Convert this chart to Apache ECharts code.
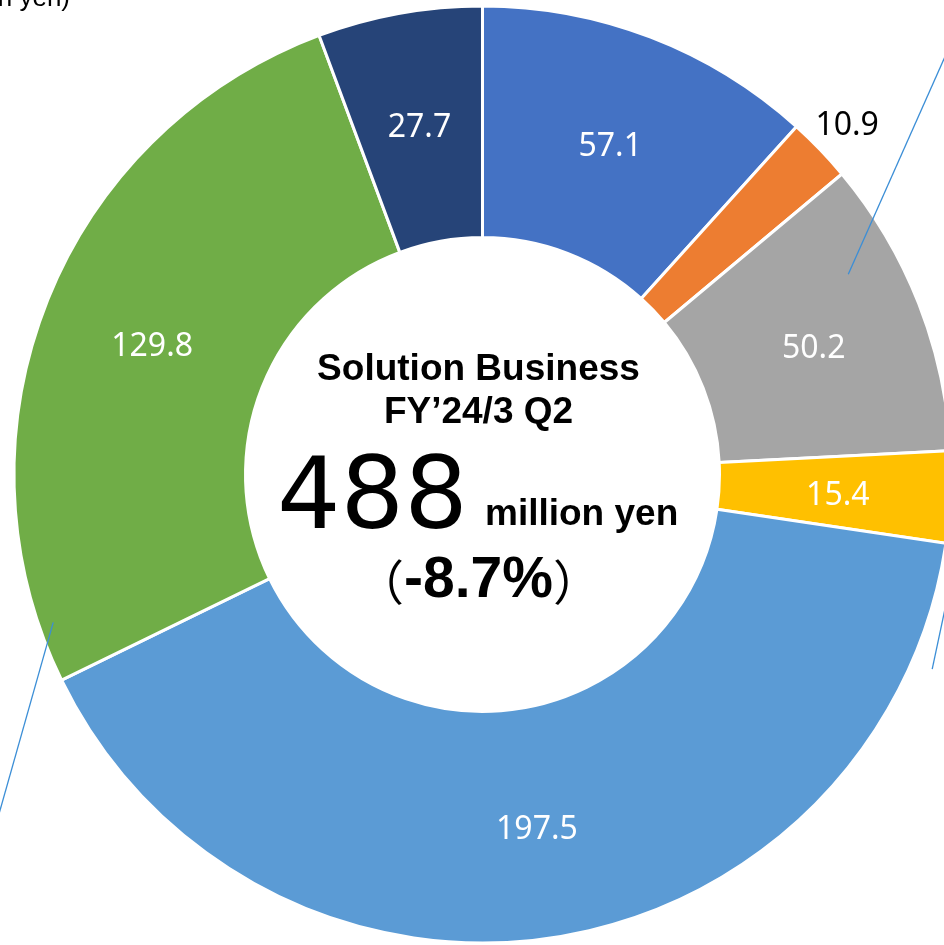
<!DOCTYPE html>
<html>
<head>
<meta charset="utf-8">
<script src="https://cdn.jsdelivr.net/npm/echarts@6/dist/echarts.min.js"></script>
<style>
  html, body { margin: 0; padding: 0; background: #fff; }
  #chart { width: 944px; height: 945px; }
</style>
</head>
<body>
<div id="chart"></div>
<script>
// Segment values of the Solution Business breakdown (million yen), clockwise from 12 o'clock
const segmentNames = ['A', 'B', 'C', 'D', 'E', 'F', 'G'];
const segmentValues = [57.1, 10.9, 50.2, 15.4, 197.5, 129.8, 27.7];
const segmentColors = ['#4472C4', '#ED7D31', '#A5A5A5', '#FFC000', '#5B9BD5', '#70AD47', '#264478'];
const outsideLabelIndex = 1;

const centerTitle = 'Solution Business';
const centerPeriod = 'FY\u201924/3 Q2';
const totalValue = '488';
const totalUnit = 'million yen';
const totalChange = '-8.7%';
const unitNote = '(million yen)';

// Donut geometry
const CX = 482.5, CY = 474.5, R_IN = 237, R_OUT = 468.5;

// Point at a clockwise angle from 12 o'clock and a radius around the donut centre
function polar(angleDeg, r) {
  const a = angleDeg * Math.PI / 180;
  return [CX + r * Math.sin(a), CY - r * Math.cos(a)];
}

// Thin leader lines running off the edges of the canvas
const leaders = [
  [[61.3, 417], [46.6, 657]],
  [[113.4, 490], [105.0, 481]],
  [[251.0, 454], [234.6, 595]]
];

const chart = echarts.init(document.getElementById('chart'));

const data = segmentValues.map((v, i) => {
  const item = { name: segmentNames[i], value: v, itemStyle: { color: segmentColors[i] } };
  if (i === outsideLabelIndex) {
    item.label = { position: 'outside', color: '#000', offset: [-37, 3] };
    item.labelLine = { show: false, length: 38, length2: 0 };
  }
  return item;
});

const graphics = leaders.map(([p, q]) => {
  const a = polar(p[0], p[1]);
  const b = polar(q[0], q[1]);
  return {
    type: 'line',
    shape: { x1: a[0], y1: a[1], x2: b[0], y2: b[1] },
    style: { stroke: '#3B8ED6', lineWidth: 1.3 },
    z: 10
  };
});

const boldFont = '"Liberation Sans", Arial, sans-serif';

graphics.push(
  {
    type: 'text', x: 70, y: 12,
    style: { text: unitNote, font: '26px ' + boldFont, fill: '#000', textAlign: 'right', textVerticalAlign: 'bottom' }
  },
  {
    type: 'text', x: CX - 4, y: CY - 105,
    style: { text: centerTitle, font: 'bold 37px ' + boldFont, fill: '#000', textAlign: 'center', textVerticalAlign: 'middle' }
  },
  {
    type: 'text', x: CX - 4, y: CY - 62,
    style: { text: centerPeriod, font: 'bold 37px ' + boldFont, fill: '#000', textAlign: 'center', textVerticalAlign: 'middle' }
  },
  {
    type: 'text', x: 277, y: CY + 28,
    style: { text: totalValue, font: '100px "DejaVu Sans", sans-serif', fill: '#000', textAlign: 'left', textVerticalAlign: 'middle' }
  },
  {
    type: 'text', x: 485, y: CY + 40,
    style: { text: totalUnit, font: 'bold 37px ' + boldFont, fill: '#000', textAlign: 'left', textVerticalAlign: 'middle' }
  },
  {
    type: 'text', x: CX - 4, y: CY + 107,
    style: {
      text: '{p|\uFF08}{v|' + totalChange + '}{p|\uFF09}',
      textAlign: 'center', textVerticalAlign: 'middle',
      rich: {
        p: { font: '48px "Noto Sans CJK JP", sans-serif', fill: '#000' },
        v: { font: 'bold 57px ' + boldFont, fill: '#000' }
      }
    }
  }
);

chart.setOption({
  animation: false,
  backgroundColor: '#fff',
  series: [{
    type: 'pie',
    center: [CX, CY],
    radius: [R_IN, R_OUT],
    startAngle: 90,
    clockwise: true,
    avoidLabelOverlap: false,
    itemStyle: { borderColor: '#fff', borderWidth: 3 },
    label: {
      show: true,
      position: 'inside',
      formatter: p => p.value.toFixed(1),
      color: '#fff',
      fontFamily: '"Noto Sans", sans-serif',
      fontSize: 32,
      offset: [0, 4]
    },
    labelLine: { show: false },
    data: data
  }],
  graphic: graphics
});
</script>
</body>
</html>
